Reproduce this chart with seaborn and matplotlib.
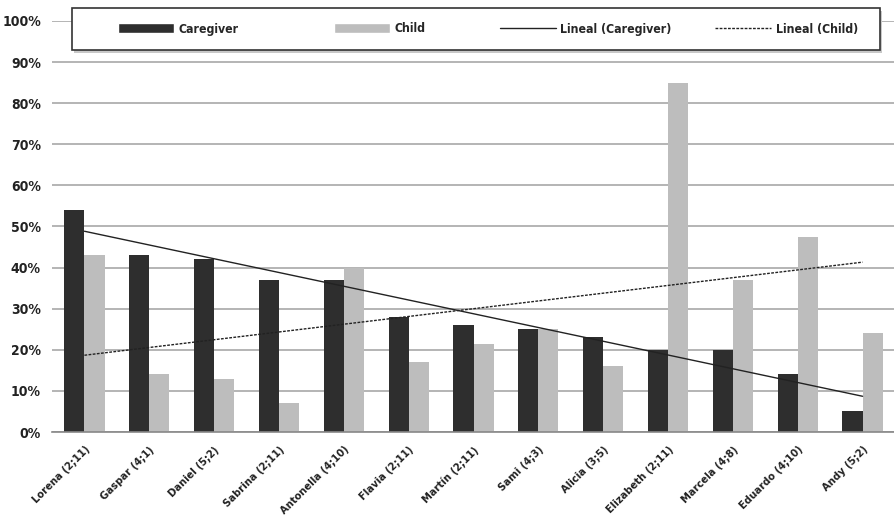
import numpy as np
import pandas as pd
import matplotlib
matplotlib.use("Agg")
import matplotlib.pyplot as plt
import seaborn as sns
from matplotlib.patches import Rectangle, Patch
from matplotlib.lines import Line2D

# Share of utterances per dyad
names = ["Lorena (2;11)", "Gaspar (4;1)", "Daniel (5;2)", "Sabrina (2;11)",
         "Antonella (4;10)", "Flavia (2;11)", "Martín (2;11)", "Sami (4;3)",
         "Alicia (3;5)", "Elizabeth (2;11)", "Marcela (4;8)", "Eduardo (4;10)",
         "Andy (5;2)"]
caregiver = [54, 43, 42, 37, 37, 28, 26, 25, 23, 20, 20, 14, 5]
child = [43, 14, 13, 7, 40, 17, 21.5, 25, 16, 85, 37, 47.5, 24]
series = ["Caregiver", "Child"]
legend_labels = ["Caregiver", "Child", "Lineal (Caregiver)", "Lineal (Child)"]
y_ticks = list(range(0, 101, 10))

DARK = "#2e2e2e"
LIGHT = "#bdbdbd"
GRID = "#a8a8a8"

sns.set_style("white")
plt.rcParams["font.family"] = ["DejaVu Sans"]
plt.rcParams["font.stretch"] = "condensed"
plt.rcParams["font.weight"] = "bold"

fig = plt.figure(figsize=(8.94, 5.21), dpi=100)
W, H = 894, 521
ax = fig.add_axes([52 / W, 1 - 432 / H, 843 / W, 411 / H])

df = pd.DataFrame({
    "name": names * 2,
    "value": caregiver + child,
    "role": [series[0]] * len(names) + [series[1]] * len(names),
})
sns.barplot(data=df, x="name", y="value", hue="role", hue_order=series,
            palette=[DARK, LIGHT], width=0.62, saturation=1, errorbar=None,
            legend=False, ax=ax, zorder=2, linewidth=0)

# linear trend lines
x = np.arange(len(names))
fit_c = np.polyval(np.polyfit(x, caregiver, 1), x)
fit_k = np.polyval(np.polyfit(x, child, 1), x)
ax.plot(x, fit_c, color="#222222", lw=1.0, zorder=3)
ax.plot(x, fit_k, color="#222222", lw=1.0, ls=(0, (2, 1)), zorder=3)

ax.set_xlim(-0.5, len(names) - 0.5)
ax.set_ylim(0, 100)
ax.set_yticks(y_ticks)
ax.set_yticklabels([f"{v}%" for v in y_ticks])
ax.yaxis.grid(True, color=GRID, lw=1.2)
ax.xaxis.grid(False)
ax.set_axisbelow(True)
ax.set_xlabel("")
ax.set_ylabel("")

for s in ["left", "top", "right"]:
    ax.spines[s].set_visible(False)
ax.spines["bottom"].set_color("#888888")
ax.spines["bottom"].set_linewidth(1.2)

ax.tick_params(axis="y", length=0, pad=8, labelsize=10, labelcolor="#222222")
ax.set_xticks(x)
ax.set_xticklabels(names, rotation=45, ha="right", va="top",
                   rotation_mode="anchor", fontsize=8.0, color="#222222")
ax.set_xticks(np.arange(-0.5, len(names), 1), minor=True)
ax.tick_params(axis="x", which="major", length=0, pad=9)
ax.tick_params(axis="x", which="minor", length=6, width=1.2, color="#666666")

# legend box with a soft shadow
fx0, fy0, fw, fh = 72 / W, 1 - 50 / H, 808 / W, 42 / H
fig.add_artist(Rectangle((fx0 + 2 / W, fy0 - 3 / H), fw, fh, transform=fig.transFigure,
                         facecolor="#c8c8c8", edgecolor="none", zorder=1))
fig.add_artist(Rectangle((fx0, fy0), fw, fh, transform=fig.transFigure,
                         facecolor="white", edgecolor="#333333", lw=1.2, zorder=1.1))

handles = [Patch(facecolor=DARK), Patch(facecolor=LIGHT),
           Line2D([], [], color="#222222", lw=1.0),
           Line2D([], [], color="#222222", lw=1.0, ls=(0, (2, 1)))]
starts = [118, 334, 500, 715]
for h, lab, sx in zip(handles, legend_labels, starts):
    fig.legend([h], [lab], loc="center left",
               bbox_to_anchor=(sx / W, fy0 + fh / 2),
               frameon=False, borderaxespad=0, borderpad=0, handlelength=4.6,
               handletextpad=0.35, handleheight=0.9, fontsize=8.8)

fig.savefig("out.png", dpi=100)
